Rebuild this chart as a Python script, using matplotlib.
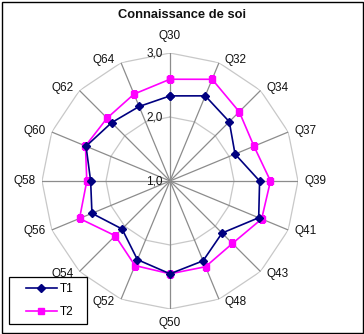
import numpy as np
import matplotlib
matplotlib.use("Agg")
import matplotlib.pyplot as plt
from matplotlib.patches import Rectangle
from matplotlib.lines import Line2D
from matplotlib.legend_handler import HandlerLine2D

plt.rcParams['font.family'] = ['Liberation Sans', 'DejaVu Sans']

categories = ["Q30", "Q32", "Q34", "Q37", "Q39", "Q41", "Q43", "Q48",
              "Q50", "Q52", "Q54", "Q56", "Q58", "Q60", "Q62", "Q64"]
t1 = [2.33, 2.44, 2.31, 2.10, 2.40, 2.50, 2.15, 2.35,
      2.45, 2.33, 2.06, 2.32, 2.24, 2.42, 2.29, 2.26]
t2 = [2.59, 2.72, 2.53, 2.42, 2.57, 2.55, 2.38, 2.45,
      2.45, 2.43, 2.21, 2.53, 2.30, 2.43, 2.39, 2.47]
ring_values = [1.0, 2.0, 3.0]
ring_labels = ["1,0", "2,0", "3,0"]
title = "Connaissance de soi"

W, H = 364, 334
fig = plt.figure(figsize=(W / 100, H / 100), dpi=100)
cx, cy, R = 170, 181, 128
ax = fig.add_axes([(cx - R) / W, (H - cy - R) / H, 2 * R / W, 2 * R / H],
                  projection='polar')
ax.set_theta_zero_location('N')
ax.set_theta_direction(-1)
ax.set_ylim(1, 3)
ax.grid(False)
ax.set_xticks([])
ax.set_yticks([])
ax.spines['polar'].set_visible(False)
ax.patch.set_alpha(0)

n = len(categories)
theta = np.arange(n) * 2 * np.pi / n
closed = np.append(theta, theta[0])

# rings (polygons)
for rv in ring_values[1:]:
    ax.plot(closed, [rv] * (n + 1), color='#c8c8c8', lw=0.9, zorder=1)
# spokes
for th in theta:
    ax.plot([th, th], [1, 3], color='#8c8c8c', lw=0.9, zorder=1)

ax.plot(closed, np.append(t2, t2[0]), color='#ff00ff', lw=1.2,
        marker='s', ms=5, mfc='#ff00ff', mec='#ff00ff', zorder=3)
ax.plot(closed, np.append(t1, t1[0]), color='#000080', lw=1.2,
        marker='D', ms=4.5, mfc='#000080', mec='#000080', zorder=4)

px = 0.72
for th, lab in zip(theta, categories):
    s, c = np.sin(th), np.cos(th)
    if abs(s) < 0.01:
        ha = 'center'
        if c > 0:
            va, off = 'bottom', (0, 11 * px)
        else:
            va, off = 'top', (0, -8 * px)
    else:
        ha = 'left' if s > 0 else 'right'
        va = 'center'
        off = (6 * px * np.sign(s), 3 * c * px)
    ax.annotate(lab, xy=(th, 3), xytext=off, textcoords='offset points',
                ha=ha, va=va, fontsize=8.5, color='#111111',
                annotation_clip=False)

for rv, rl in zip(ring_values, ring_labels):
    ax.annotate(rl, xy=(0, rv), xytext=(-7 * px, 0), textcoords='offset points',
                ha='right', va='center', fontsize=8.5, color='#111111',
                annotation_clip=False)

fig.text(182 / W, 1 - 15 / H, title, ha='center', va='center',
         fontsize=9.3, fontweight='bold', color='#111111')

# legend
h1 = Line2D([], [], color='#000080', lw=1.2, marker='D', ms=4.5, label='T1')
h2 = Line2D([], [], color='#ff00ff', lw=1.2, marker='s', ms=5, label='T2')
leg = ax.legend(handles=[h1, h2],
    handler_map={h1: HandlerLine2D(numpoints=1, xpad=0.94),
                 h2: HandlerLine2D(numpoints=1, xpad=0.94)},
    loc='lower left', bbox_to_anchor=(9 / W, 10 / H, 77.7 / W, 47 / H),
    bbox_transform=fig.transFigure, mode='expand', fontsize=8.5,
    frameon=True, fancybox=False, edgecolor='#000000', framealpha=1,
    handlelength=3.54, borderpad=0.5, labelspacing=0.92, handletextpad=0.28,
    borderaxespad=0)
leg.get_frame().set_linewidth(0.9)

fig.patches.append(Rectangle((1.5 / W, 1.5 / H), 1 - 3 / W, 1 - 3 / H,
                             transform=fig.transFigure, fill=False,
                             edgecolor='#000000', lw=1.0))

fig.savefig('out.png', dpi=100)
